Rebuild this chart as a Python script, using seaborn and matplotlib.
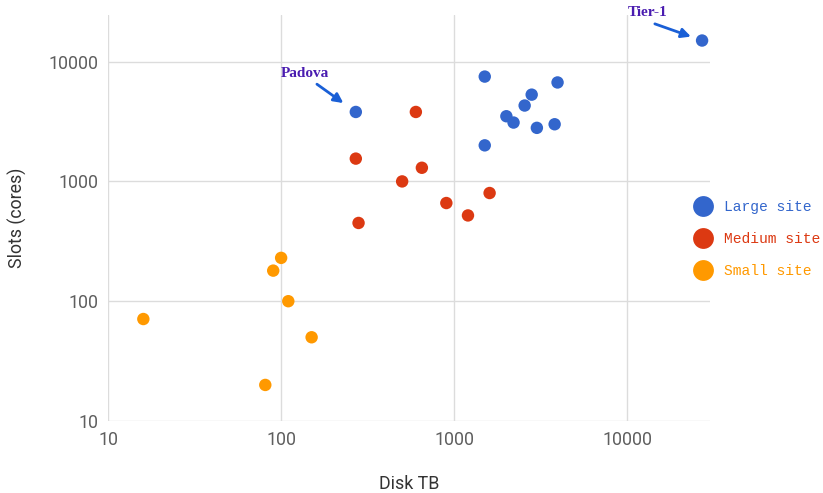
import pandas as pd
import seaborn as sns
import matplotlib.pyplot as plt
from matplotlib.lines import Line2D
from matplotlib.ticker import FixedLocator, FixedFormatter, NullLocator

# Values
large_disk = [270, 1500, 1500, 2000, 2200, 2550, 2800, 3000, 3800, 3950, 27000]
large_slots = [3800, 7500, 2000, 3500, 3100, 4300, 5300, 2800, 3000, 6700, 15000]
medium_disk = [270, 280, 500, 600, 650, 900, 1200, 1600]
medium_slots = [1550, 450, 1000, 3800, 1300, 660, 520, 800]
small_disk = [16, 81, 90, 100, 110, 150]
small_slots = [71, 20, 180, 230, 100, 50]

categories = ['Large site', 'Medium site', 'Small site']
colors = ['#3366CC', '#DC3912', '#FF9900']
ticks = [10, 100, 1000, 10000]
tick_labels = ['10', '100', '1000', '10000']

data = pd.concat([
    pd.DataFrame({'Disk TB': large_disk, 'Slots': large_slots, 'Site': 'Large site'}),
    pd.DataFrame({'Disk TB': medium_disk, 'Slots': medium_slots, 'Site': 'Medium site'}),
    pd.DataFrame({'Disk TB': small_disk, 'Slots': small_slots, 'Site': 'Small site'}),
])

sns.set_style('white')
plt.rcParams['font.family'] = ['Roboto', 'DejaVu Sans']

fig = plt.figure(figsize=(8.23, 4.93), dpi=100)
ax = fig.add_axes([108 / 823, 1 - 421 / 493, (710 - 108) / 823, (421 - 15) / 493])

sns.scatterplot(data=data, x='Disk TB', y='Slots', hue='Site', hue_order=categories,
                palette=colors, s=80, linewidth=0, legend=False, ax=ax, zorder=3)

ax.set_xscale('log')
ax.set_yscale('log')
ax.set_xlim(10, 30000)
ax.set_ylim(10, 24500)
ax.xaxis.set_major_locator(FixedLocator(ticks))
ax.xaxis.set_major_formatter(FixedFormatter(tick_labels))
ax.yaxis.set_major_locator(FixedLocator(ticks))
ax.yaxis.set_major_formatter(FixedFormatter(tick_labels))
ax.xaxis.set_minor_locator(NullLocator())
ax.yaxis.set_minor_locator(NullLocator())
ax.grid(True, color='#dcdcdc', linewidth=1)
for side in ['top', 'right', 'left', 'bottom']:
    ax.spines[side].set_visible(False)
ax.tick_params(length=0, labelsize=12.8, labelcolor='#5f5f5f')
ax.tick_params(axis='x', pad=7)
ax.tick_params(axis='y', pad=7)

ax.set_xlabel('Disk TB', fontsize=12.8, color='#333333', labelpad=19)
ax.set_ylabel('Slots (cores)', fontsize=12.8, color='#333333', labelpad=15)

# Annotations
arrow = dict(arrowstyle='-|>', color='#1a5fd6', lw=2, mutation_scale=14, shrinkA=0)
ax.annotate('', xy=(270, 3800), xytext=(-28, 20), textcoords='offset points',
            arrowprops=dict(arrow, shrinkB=11))
ax.annotate('Padova', xy=(270, 3800), xytext=(-37, 28), textcoords='offset points',
            ha='center', va='center', fontsize=11, fontweight='bold',
            family='Liberation Serif', color='#4a1cb0')
ax.annotate('', xy=(27000, 15000), xytext=(-34, 12), textcoords='offset points',
            arrowprops=dict(arrow, shrinkB=8.5))
ax.annotate('Tier-1', xy=(27000, 15000), xytext=(-39, 20), textcoords='offset points',
            ha='center', va='center', fontsize=11, fontweight='bold',
            family='Liberation Serif', color='#4a1cb0', annotation_clip=False)

# Legend
handles = [Line2D([], [], marker='o', linestyle='', markersize=15, markerfacecolor=c,
                  markeredgewidth=0) for c in colors]
ax.legend(handles, categories, loc='center left', bbox_to_anchor=(696 / 823, 1 - 239 / 493),
          bbox_transform=fig.transFigure, frameon=False, borderpad=0, borderaxespad=0,
          handlelength=1.0, handletextpad=0.9, labelspacing=1.22,
          prop={'family': 'Liberation Mono', 'size': 10.5}, labelcolor=colors)

fig.savefig('out.png', dpi=100)
